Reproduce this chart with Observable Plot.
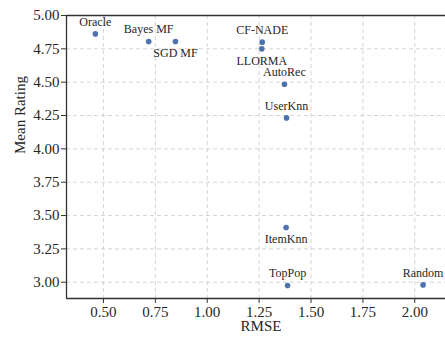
<!DOCTYPE html>
<html>
<head>
<meta charset="utf-8">
<script src="https://cdn.jsdelivr.net/npm/d3@7"></script>
<script src="https://cdn.jsdelivr.net/npm/@observablehq/plot@0.6"></script>
<style>
  html, body { margin: 0; padding: 0; background: #fff; }
  svg { display: block; }
  svg text { font-family: "Liberation Serif", "Times New Roman", Tinos, serif !important; }
</style>
</head>
<body>
<div id="chart"></div>
<script>
const methods = ["Oracle", "Bayes MF", "SGD MF", "CF-NADE", "LLORMA", "AutoRec", "UserKnn", "ItemKnn", "TopPop", "Random"];
const rmse = [0.461, 0.718, 0.847, 1.265, 1.263, 1.372, 1.382, 1.380, 1.387, 2.040];
const meanRating = [4.862, 4.805, 4.805, 4.800, 4.750, 4.485, 4.232, 3.410, 2.975, 2.980];
const xTicks = [0.50, 0.75, 1.00, 1.25, 1.50, 1.75, 2.00];
const yTicks = [3.00, 3.25, 3.50, 3.75, 4.00, 4.25, 4.50, 4.75, 5.00];
const xLimits = [0.322, 2.148];
const yLimits = [2.878, 5.0];

const data = methods.map((m, i) => ({ method: m, rmse: rmse[i], rating: meanRating[i] }));
const belowSet = new Set(["SGD MF", "LLORMA", "ItemKnn"]);
const above = data.filter(d => !belowSet.has(d.method));
const below = data.filter(d => belowSet.has(d.method));

const font = "Liberation Serif, Times New Roman, serif";
const ink = "#262626";

const chart = Plot.plot({
  width: 445,
  height: 337,
  marginLeft: 66,
  marginRight: 0,
  marginTop: 15,
  marginBottom: 39,
  style: { fontFamily: font, fontSize: "15px", color: ink, background: "#fff" },
  x: { domain: xLimits },
  y: { domain: yLimits },
  marks: [
    Plot.gridX(xTicks, { stroke: "#d0d0d0", strokeOpacity: 1, strokeDasharray: "4,3", strokeWidth: 0.9 }),
    Plot.gridY(yTicks, { stroke: "#d0d0d0", strokeOpacity: 1, strokeDasharray: "4,3", strokeWidth: 0.9 }),
    Plot.axisX(xTicks, { tickSize: 5, tickPadding: 3, tickFormat: d3.format(".2f"), label: null, fontSize: 15, stroke: "#333", fill: ink }),
    Plot.axisY(yTicks, { tickSize: 5, tickPadding: 2, tickFormat: d3.format(".2f"), label: null, fontSize: 15, stroke: "#333", fill: ink }),
    Plot.ruleY([yLimits[0]], { stroke: "#333", strokeWidth: 1.3 }),
    Plot.ruleY([yLimits[1]], { stroke: "#333", strokeWidth: 1.3 }),
    Plot.ruleX([xLimits[0]], { stroke: "#333", strokeWidth: 1.3 }),
    Plot.dot(data, { x: "rmse", y: "rating", r: 2.8, fill: "#4c72b0", stroke: "none" }),
    Plot.text(above, { x: "rmse", y: "rating", text: "method", dy: -12, fontSize: 12, fill: ink }),
    Plot.text(below, { x: "rmse", y: "rating", text: "method", dy: 12, fontSize: 12, fill: ink }),
    Plot.text(["RMSE"], { frameAnchor: "bottom", dx: 5, dy: 32, fontSize: 15, fill: ink }),
    Plot.text(["Mean Rating"], { frameAnchor: "left", rotate: -90, dx: -46, dy: -3, fontSize: 15, fill: ink })
  ]
});
document.getElementById("chart").appendChild(chart);
</script>
</body>
</html>
